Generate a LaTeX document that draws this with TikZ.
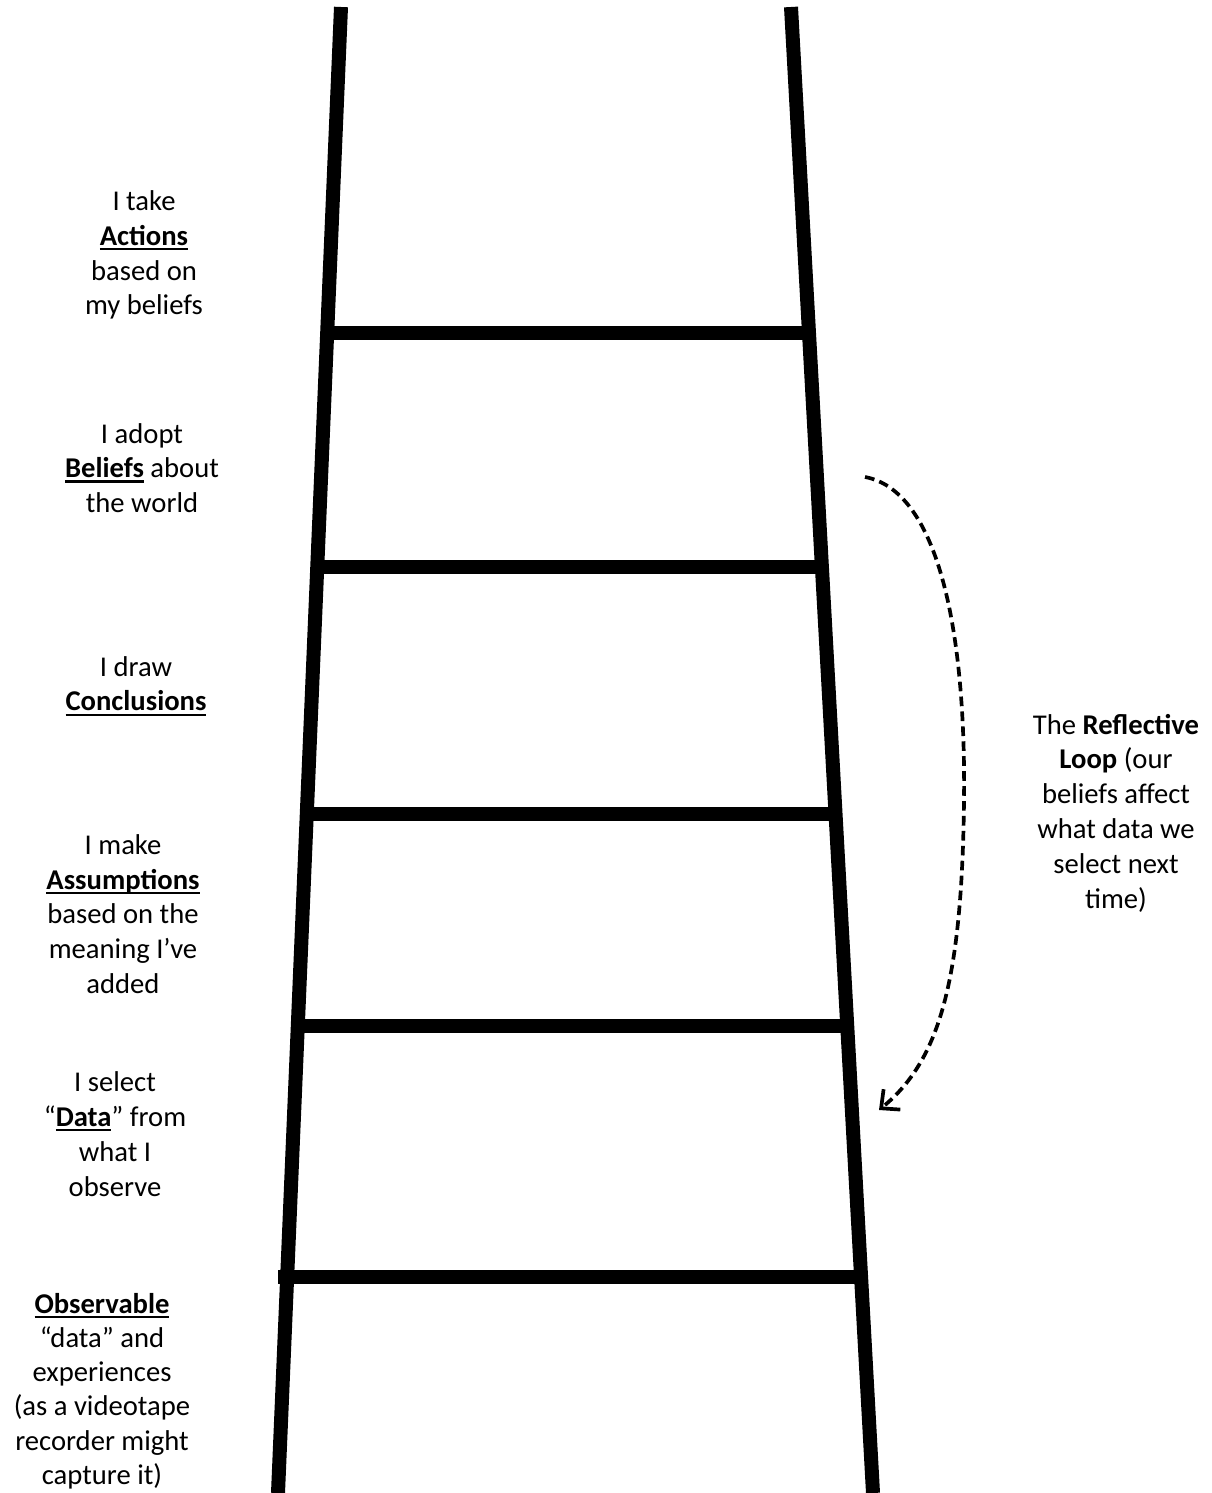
\documentclass[tikz,border=0pt]{standalone}
\usepackage{fontspec}
\setmainfont{Carlito}
\usetikzlibrary{arrows.meta}
\newcommand\myul[1]{\setbox0\hbox{\textbf{#1}}\rlap{\vrule height -1.5pt depth 2.7pt width \wd0}\box0\relax}
\begin{document}
\begin{tikzpicture}[x=0.02cm,y=-0.02cm,
  rail/.style={line width=0.28cm},
  lbl/.style={align=center, font=\fontsize{16.3}{19.8}\selectfont, inner sep=0pt},
  loopline/.style={line width=2.1pt, dash pattern=on 5.5pt off 3pt, -{Straight Barb[length=8pt,width=15pt]}}]
\useasboundingbox[fill=white] (0,0) rectangle (1212,1493);
% rails
\draw[rail] (341,7) -- (278,1493);
\draw[rail] (791,7) -- (873,1493);
% rungs
\draw[rail] (327,333) -- (811,333);
\draw[rail] (318,567) -- (828,567);
\draw[rail] (308,814) -- (835,814);
\draw[rail] (298,1026) -- (852,1026);
\draw[rail] (278,1277) -- (866,1277);
% labels
\node[lbl] (actions) at (144,255) {I take\\\myul{Actions}\\based on\\my beliefs};
\node[lbl] (beliefs) at (142,468) {I adopt\\\myul{Beliefs} about\\the world};
\node[lbl] (concl) at (136,686) {I draw\\\myul{Conclusions}};
\node[lbl] (assum) at (123,914) {I make\\\myul{Assumptions}\\based on the\\meaning I’ve\\added};
\node[lbl] (data) at (115,1134) {I select\\“\myul{Data}” from\\what I\\observe};
\node[lbl, font=\fontsize{16.3}{19.5}\selectfont] (obs) at (102,1391) {\myul{Observable}\\“data” and\\experiences\\(as a videotape\\recorder might\\capture it)};
\node[lbl] (refl) at (1116,813) {The \textbf{Reflective}\\\textbf{Loop} (our\\beliefs affect\\what data we\\select next\\time)};
% reflective loop arrow
\coordinate (loopstart) at (865,477);
\coordinate (loopend) at (879,1110);
\draw[loopline] (loopstart) .. controls (935,490) and (966,620) .. (964,800)
  .. controls (962,980) and (940,1060) .. (loopend);
\end{tikzpicture}
\end{document}
